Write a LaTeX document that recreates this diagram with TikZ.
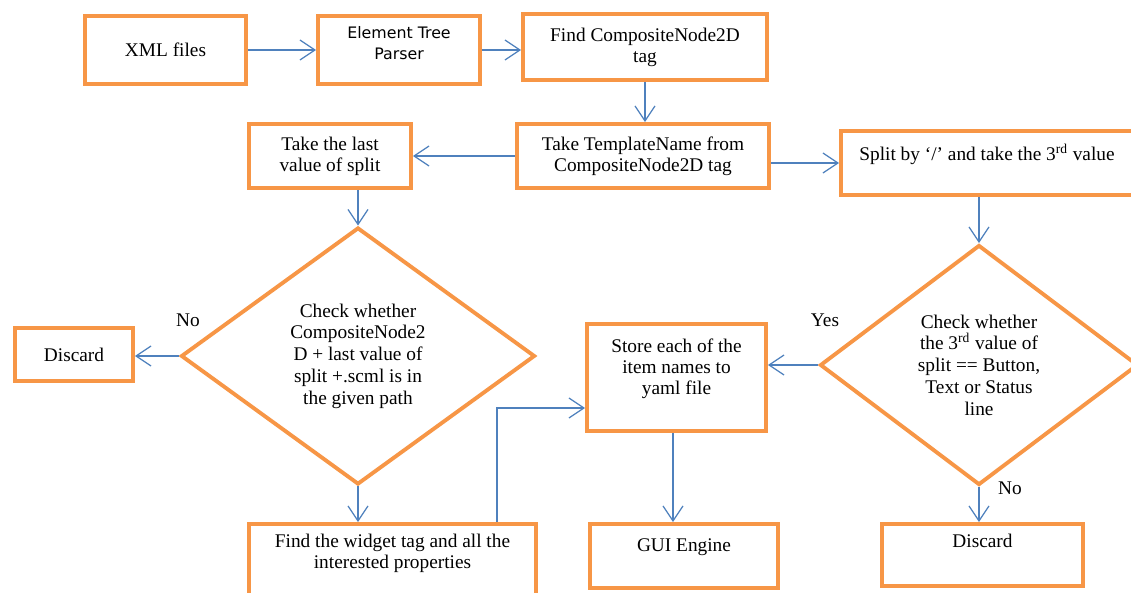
\documentclass[tikz,border=0pt]{standalone}
\usepackage{fontspec}
\setmainfont{Liberation Serif}
\newfontfamily\parserfont{DejaVu Sans}
\usepackage{xcolor}
\usepackage{tikz}
\usetikzlibrary{shapes.geometric, arrows.meta}
\definecolor{boxorange}{RGB}{247, 150, 70}
\definecolor{flowblue}{RGB}{79, 129, 189}

\begin{document}
\begin{tikzpicture}[
        stepbox/.style={rectangle, draw=boxorange, line width=2.2pt, fill=white, align=center, inner sep=2pt, font=\fontsize{11}{12}\selectfont},
        decision/.style={diamond, draw=boxorange, line width=2.2pt, fill=white, align=center, inner sep=0pt, font=\fontsize{11}{12.4}\selectfont},
        flow/.style={-{Straight Barb[length=3mm, width=4mm]}, draw=flowblue, line width=0.7pt},
        answer/.style={font=\fontsize{11}{12}\selectfont}
    ]
    \useasboundingbox (0, 0) rectangle (22.62, -11.86);

    % Top row
    \node[stepbox, minimum width=3.22cm, minimum height=1.36cm] (xml) at (3.31, -1.00) {XML files};
    \node[stepbox, minimum width=3.24cm, minimum height=1.36cm, font=\parserfont\fontsize{9}{12}\selectfont] (parser) at (7.98, -1.00) {Element Tree\\ Parser\\[-4pt] \mbox{}};
    \node[stepbox, minimum width=4.88cm, minimum height=1.32cm] (findtag) at (12.90, -0.94) {Find CompositeNode2D\\ tag};

    % Second row
    \node[stepbox, minimum width=5.04cm, minimum height=1.28cm] (template) at (12.86, -3.12) {Take TemplateName from\\ CompositeNode2D tag};
    \node[stepbox, minimum width=3.24cm, minimum height=1.28cm] (lastval) at (6.60, -3.12) {Take the last\\ value of split};
    \node[stepbox, minimum width=5.84cm, minimum height=1.28cm] (split) at (19.74, -3.26) {Split by ‘/’ and take the 3\textsuperscript{rd} value\\ \mbox{}};

    % Decisions
    \node[decision, minimum width=7.08cm, minimum height=5.14cm] (checkpath) at (7.16, -7.12) {Check whether\\ CompositeNode2\\ D + last value of\\ split +.scml is in\\ the given path};
    \node[decision, minimum width=6.36cm, minimum height=4.80cm] (checktype) at (19.58, -7.30) {Check whether\\ the 3\textsuperscript{rd} value of\\ split == Button,\\ Text or Status\\ line};

    % Outcomes
    \node[stepbox, minimum width=2.36cm, minimum height=1.06cm] (discardleft) at (1.48, -7.09) {Discard};
    \node[stepbox, minimum width=3.58cm, minimum height=2.14cm] (store) at (13.53, -7.55) {Store each of the\\ item names to\\ yaml file\\ \mbox{}};
    \node[stepbox, minimum width=5.74cm, minimum height=1.72cm] (widget) at (7.85, -11.34) {Find the widget tag and all the\\ interested properties\\[6pt] \mbox{}};
    \node[stepbox, minimum width=3.76cm, minimum height=1.28cm] (gui) at (13.68, -11.12) {GUI Engine\\ \mbox{}};
    \node[stepbox, minimum width=4.02cm, minimum height=1.24cm] (discardright) at (19.65, -11.10) {Discard\\[4pt] \mbox{}};

    % Branch labels
    \node[answer] (noleft) at (3.76, -6.40) {No};
    \node[answer] (yes) at (16.50, -6.40) {Yes};
    \node[answer] (nobottom) at (20.20, -9.76) {No};

    % Flows
    \draw[flow] (xml) -- (parser);
    \draw[flow] (parser.east) -- (parser.east -| findtag.west);
    \draw[flow] (findtag.south) -- (findtag.south |- template.north);
    \draw[flow] (template.west) -- (lastval.east);
    \draw[flow] (template.east |- split.west) -- (split.west);
    \draw[flow] (lastval.south -| checkpath.north) -- (checkpath.north);
    \draw[flow] (checkpath.west) -- (discardleft.east |- checkpath.west);
    \draw[flow] (checkpath.south) -- (checkpath.south |- widget.north);
    \draw[flow] ([xshift=2.09cm]widget.north) |- ([yshift=-0.61cm]store.west);
    \draw[flow] (checktype.west) -- (checktype.west -| store.east);
    \draw[flow] ([xshift=-0.07cm]store.south) -- ([xshift=-0.07cm]store.south |- gui.north);
    \draw[flow] (split.south -| checktype.north) -- (checktype.north);
    \draw[flow] (checktype.south) -- (checktype.south |- discardright.north);

\end{tikzpicture}
\end{document}
